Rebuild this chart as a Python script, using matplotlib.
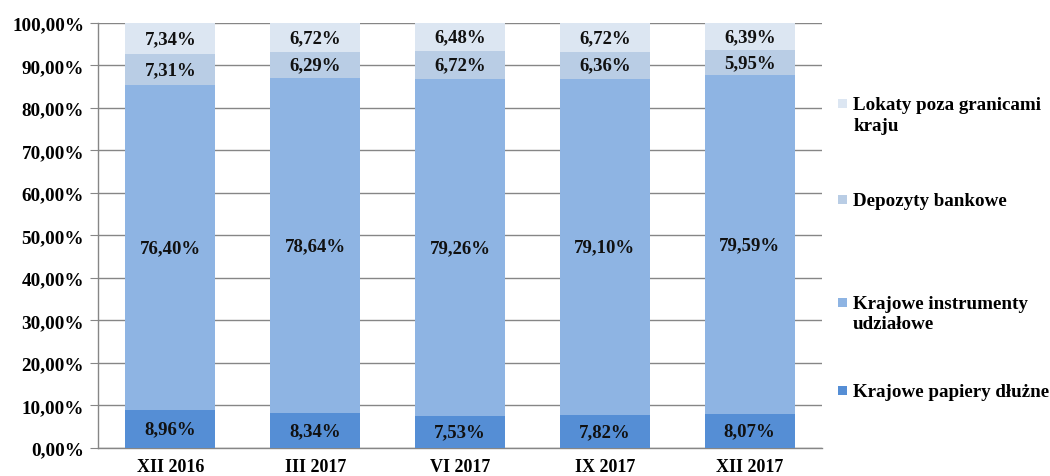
import numpy as np
import matplotlib
matplotlib.use("Agg")
import matplotlib.pyplot as plt
from matplotlib.patches import Rectangle

# Data
categories = ['XII 2016', 'III 2017', 'VI 2017', 'IX 2017', 'XII 2017']
papiery = [8.96, 8.34, 7.53, 7.82, 8.07]
instrumenty = [76.40, 78.64, 79.26, 79.10, 79.59]
depozyty = [7.31, 6.29, 6.72, 6.36, 5.95]
lokaty = [7.34, 6.72, 6.48, 6.72, 6.39]

series = [
    ('Krajowe papiery dłużne', papiery, '#558ED5'),
    ('Krajowe instrumenty\nudziałowe', instrumenty, '#8EB4E3'),
    ('Depozyty bankowe', depozyty, '#B9CDE5'),
    ('Lokaty poza granicami\nkraju', lokaty, '#DCE6F2'),
]

plt.rcParams['font.family'] = ['Liberation Serif', 'DejaVu Serif']
plt.rcParams['font.weight'] = 'bold'

fig = plt.figure(figsize=(10.5, 4.77), dpi=100)
ax = fig.add_axes([0.0933, 0.0587, 0.6897, 0.891])

x = np.arange(len(categories))
bottom = np.zeros(len(categories))
for name, vals, col in series:
    vals = np.array(vals)
    ax.bar(x, vals, width=0.62, bottom=bottom, color=col, zorder=3)
    for xi, b, v in zip(x, bottom, vals):
        ax.text(xi, b + v / 2, f'{v:.2f}%'.replace('.', ','), ha='center', va='center',
                fontsize=13.5, fontweight='bold', color='#111111', zorder=4)
    bottom = bottom + vals

ax.set_xlim(-0.5, len(categories) - 0.5)
ax.set_ylim(0, 100)
ax.set_yticks(np.arange(0, 101, 10))
ax.set_yticklabels([f'{v:.2f}%'.replace('.', ',') for v in np.arange(0, 101, 10)])
ax.set_xticks(x)
ax.set_xticklabels(categories)
ax.tick_params(axis='y', length=6, color='#868686', labelsize=13.8, pad=4)
ax.tick_params(axis='x', length=0, labelsize=13, pad=7)
ax.grid(axis='y', color='#868686', linewidth=1, zorder=0)
for s in ['top', 'right']:
    ax.spines[s].set_visible(False)
for s in ['left', 'bottom']:
    ax.spines[s].set_color('#868686')
    ax.spines[s].set_linewidth(1)

# Legend, placed by hand on the right
positions = [0.18, 0.365, 0.581, 0.782]
for (name, vals, col), ly in zip(series, positions):
    fig.patches.append(Rectangle((0.7985, ly - 0.010), 0.0085, 0.019, transform=fig.transFigure,
                                 facecolor=col, edgecolor='none'))
    fig.text(0.8125, ly + 0.014, name, ha='left', va='top', fontsize=13.7,
             fontweight='bold', linespacing=1.25)

fig.savefig('out.png', dpi=100)
